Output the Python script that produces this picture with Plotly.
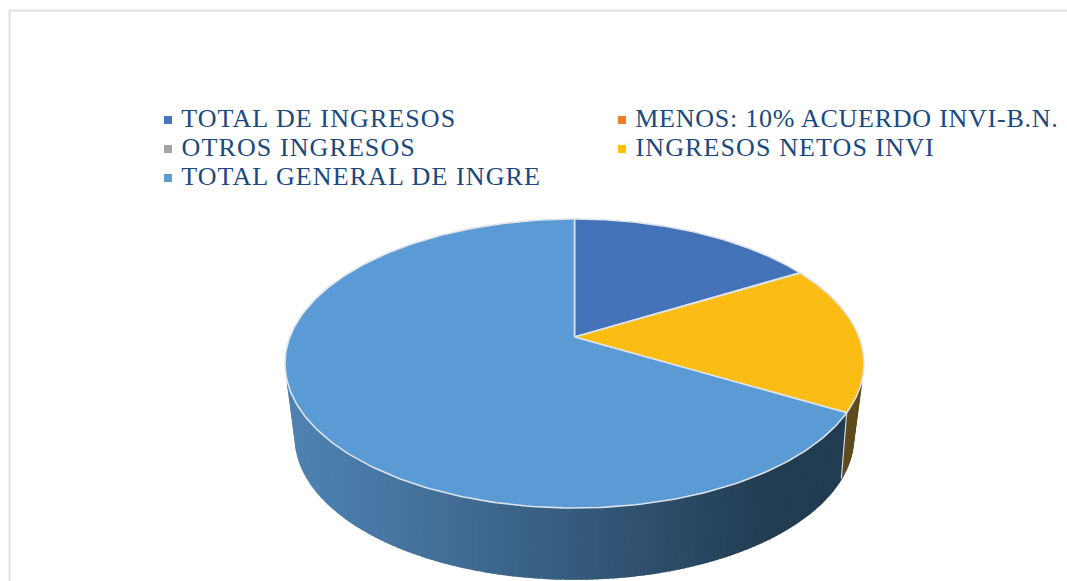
import numpy as np
import plotly.graph_objects as go

categories = ["TOTAL DE INGRESOS", "MENOS: 10% ACUERDO INVI-B.N.", "OTROS INGRESOS",
              "INGRESOS NETOS INVI", "TOTAL GENERAL DE INGRE"]
values = [16.6, 0.0, 0.0, 16.6, 66.8]
top_colors = ["#4472B8", "#ED7D31", "#A5A5A5", "#FBBC13", "#5B9BD5"]
legend_colors = ["#4472B8", "#ED7D31", "#A5A5A5", "#FFC000", "#5B9BD5"]
legend_x = [168, 622, 168, 622, 168]
legend_y = [120, 120, 149, 149, 178]
TEXT = "#1A4880"
FONT = "Liberation Serif"

# projected ellipses (pixel-like axes)
CX, RX_T, CY_T, RY_T, A_T = 574.5, 289.5, 363.5, 144.5, 0.183
RX_B, CY_B, RY_B, A_B = 279.0, 437.0, 142.0, 0.235


def project(theta, cx, cy, rx, ry, a):
    """Perspective view of a circle; theta runs clockwise from 12 o'clock."""
    u, v = np.sin(theta), np.cos(theta)
    d = 1 + a * v
    return cx + rx * u * np.sqrt(1 - a * a) / d, cy - ry * (v + a) / d


def top(theta):
    return project(theta, CX, CY_T, RX_T, RY_T, A_T)


def bottom(theta):
    return project(theta, CX, CY_B, RX_B, RY_B, A_B)


def mix(c1, c2, t):
    a = [int(c1[i:i + 2], 16) for i in (1, 3, 5)]
    b = [int(c2[i:i + 2], 16) for i in (1, 3, 5)]
    return "rgb(%d,%d,%d)" % tuple(round(p + (q - p) * t) for p, q in zip(a, b))


fracs = np.array(values) / sum(values)
edges = np.concatenate([[0], np.cumsum(fracs)]) * 2 * np.pi
fig = go.Figure()

# side wall, drawn as narrow gradient facets
t_right = np.arccos(-0.31)  # where the side wall leaves the top rim
t_left = 2 * np.pi - t_right

# wall outline underneath the facets
th_all = np.linspace(t_right, t_left, 300)
ox, oy = bottom(th_all)
tx0, ty0 = top(t_right)
tx1, ty1 = top(t_left)
fig.add_trace(go.Scatter(x=np.r_[tx0, ox, tx1], y=np.r_[ty0, oy, ty1], mode="lines",
                         line=dict(color="#CFCFCF", width=2.2), hoverinfo="skip", showlegend=False))

for i, col in enumerate(top_colors):
    s, e = max(edges[i], t_right), min(edges[i + 1], t_left)
    if e <= s:
        continue
    n = max(2, int((e - s) / 0.015))
    th = np.linspace(s, e, n + 1)
    for j in range(n):
        t0, t1 = th[j], th[j + 1]
        x0, y0 = top(t0)
        x1, y1 = top(t1)
        x2, y2 = bottom(t1)
        x3, y3 = bottom(t0)
        xm = (x0 + x1 + x2 + x3) / 4
        if i == 4:
            f = np.clip((xm - 285) / (770 - 285), 0, 1)
            c = mix("#4F83B4", "#223C52", f ** 1.1)
        else:
            c = "#5F4B1C"
        fig.add_trace(go.Scatter(x=[x0, x1, x2, x3, x0], y=[y0, y1, y2, y3, y0], mode="lines",
                                 fill="toself", fillcolor=c, line=dict(color=c, width=1.6),
                                 hoverinfo="skip", showlegend=False))

# boundary between walls
bx0, by0 = top(edges[4])
bx1, by1 = bottom(edges[4])
fig.add_trace(go.Scatter(x=[bx0, bx1], y=[by0, by1], mode="lines", line=dict(color="#D9D9D9", width=1.2),
                         hoverinfo="skip", showlegend=False))

# top slices
ax, ay = CX, CY_T - RY_T * A_T
for i, (name, col) in enumerate(zip(categories, top_colors)):
    if fracs[i] <= 0:
        continue
    th = np.linspace(edges[i], edges[i + 1], 240)
    x, y = top(th)
    fig.add_trace(go.Scatter(x=np.r_[ax, x, ax], y=np.r_[ay, y, ay], mode="lines", fill="toself",
                             fillcolor=col, line=dict(color="#DDE3EA", width=1.6),
                             name=name, text=f"{values[i]}%", hoverinfo="name+text", showlegend=False))

# legend
for name, c, lx, ly in zip(categories, legend_colors, legend_x, legend_y):
    fig.add_trace(go.Scatter(x=[lx], y=[ly], mode="markers+text", text=[" " + name], textposition="middle right",
                             marker=dict(symbol="square", size=8, color=c),
                             textfont=dict(family=FONT, size=26, color=TEXT), hoverinfo="skip", showlegend=False,
                             cliponaxis=False))

fig.update_layout(
    width=1067, height=581, margin=dict(l=0, r=0, t=0, b=0), paper_bgcolor="white", plot_bgcolor="white",
    showlegend=False,
    xaxis=dict(range=[0, 1067], visible=False, fixedrange=True),
    yaxis=dict(range=[581, 0], visible=False, fixedrange=True),
    shapes=[dict(type="rect", xref="x", yref="y", x0=9.5, y0=10.5, x1=1090, y1=600,
                 line=dict(color="#E0E0E0", width=2), layer="below")],
)
post = """
document.body.style.margin='0';
document.querySelectorAll('.textpoint text').forEach(function(t){
  t.style.whiteSpace='pre';
  t.style.letterSpacing = t.textContent.indexOf('MENOS') >= 0 ? '0.75px' : '1.1px';
});
"""
fig.write_html("out.html", post_script=post, config={"displayModeBar": False})
